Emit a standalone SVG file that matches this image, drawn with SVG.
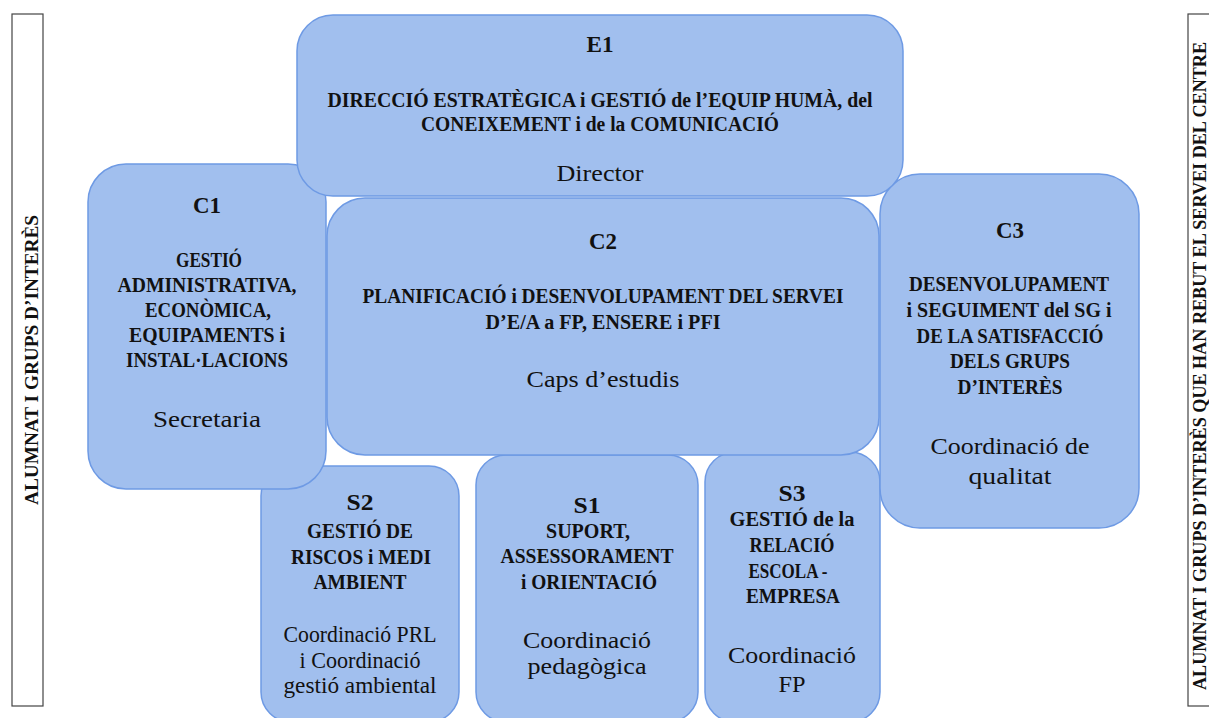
<svg xmlns="http://www.w3.org/2000/svg" width="1209" height="718" viewBox="0 0 1209 718">
<style>
.box{fill:#a1bfee;stroke:#6e9ae4;stroke-width:1.5}
.bar{fill:#fff;stroke:#444;stroke-width:1.2}
text{font-family:"Liberation Serif","DejaVu Serif",serif;fill:#111;text-anchor:middle}
.h{font-weight:bold;font-size:24px}
.b{font-weight:bold;font-size:20px}
.r{font-size:23px}
.v{font-weight:bold;font-size:19px}
</style>
<rect width="1209" height="718" fill="#fff"/>
<g id="left-bar">
<rect class="bar" x="12" y="14" width="31" height="692"/>
<text class="v" transform="translate(38,360) rotate(-90)" textLength="290" lengthAdjust="spacingAndGlyphs">ALUMNAT I GRUPS D’INTERÈS</text>
</g>
<g id="right-bar">
<rect class="bar" x="1188" y="14" width="40" height="692"/>
<text class="v" style="font-size:18px" transform="translate(1206,366) rotate(-90)" textLength="648" lengthAdjust="spacingAndGlyphs">ALUMNAT I GRUPS D’INTERÈS QUE HAN REBUT EL SERVEI DEL CENTRE</text>
</g>
<g id="connectors"></g>
<g id="S2">
<rect class="box" x="261" y="466" width="198" height="256" rx="30"/>
<text class="h" x="360" y="510" textLength="27" lengthAdjust="spacingAndGlyphs">S2</text>
<text class="b" x="360" y="538" textLength="106" lengthAdjust="spacingAndGlyphs">GESTIÓ DE</text>
<text class="b" x="361" y="564" textLength="140" lengthAdjust="spacingAndGlyphs">RISCOS i MEDI</text>
<text class="b" x="360" y="589" textLength="93" lengthAdjust="spacingAndGlyphs">AMBIENT</text>
<text class="r" x="360" y="642" textLength="153" lengthAdjust="spacingAndGlyphs">Coordinació PRL</text>
<text class="r" x="360" y="668" textLength="121" lengthAdjust="spacingAndGlyphs">i Coordinació</text>
<text class="r" x="360" y="693" textLength="153" lengthAdjust="spacingAndGlyphs">gestió ambiental</text>
</g>
<g id="S1">
<rect class="box" x="476" y="455" width="222" height="267" rx="30"/>
<text class="h" x="587" y="513" textLength="27" lengthAdjust="spacingAndGlyphs">S1</text>
<text class="b" x="588" y="538" textLength="84" lengthAdjust="spacingAndGlyphs">SUPORT,</text>
<text class="b" x="587" y="563" textLength="173" lengthAdjust="spacingAndGlyphs">ASSESSORAMENT</text>
<text class="b" x="589" y="589" textLength="136" lengthAdjust="spacingAndGlyphs">i ORIENTACIÓ</text>
<text class="r" x="587" y="648" textLength="128" lengthAdjust="spacingAndGlyphs">Coordinació</text>
<text class="r" x="587" y="674" textLength="119" lengthAdjust="spacingAndGlyphs">pedagògica</text>
</g>
<g id="S3">
<rect class="box" x="705" y="452" width="175" height="270" rx="30"/>
<text class="h" x="792" y="501" textLength="27" lengthAdjust="spacingAndGlyphs">S3</text>
<text class="b" x="792" y="526" textLength="125" lengthAdjust="spacingAndGlyphs">GESTIÓ de la</text>
<text class="b" x="792" y="552" textLength="85" lengthAdjust="spacingAndGlyphs">RELACIÓ</text>
<text class="b" x="788" y="578" textLength="79" lengthAdjust="spacingAndGlyphs">ESCOLA -</text>
<text class="b" x="793" y="603" textLength="94" lengthAdjust="spacingAndGlyphs">EMPRESA</text>
<text class="r" x="792" y="663" textLength="128" lengthAdjust="spacingAndGlyphs">Coordinació</text>
<text class="r" x="792" y="692" textLength="27" lengthAdjust="spacingAndGlyphs">FP</text>
</g>
<g id="C1">
<rect class="box" x="88" y="164" width="238" height="325" rx="38"/>
<text class="h" x="207" y="213" textLength="28" lengthAdjust="spacingAndGlyphs">C1</text>
<text class="b" x="209" y="267" textLength="66" lengthAdjust="spacingAndGlyphs">GESTIÓ</text>
<text class="b" x="207" y="292" textLength="179" lengthAdjust="spacingAndGlyphs">ADMINISTRATIVA,</text>
<text class="b" x="208" y="317" textLength="126" lengthAdjust="spacingAndGlyphs">ECONÒMICA,</text>
<text class="b" x="207" y="342" textLength="156" lengthAdjust="spacingAndGlyphs">EQUIPAMENTS i</text>
<text class="b" x="207" y="367" textLength="162" lengthAdjust="spacingAndGlyphs">INSTAL·LACIONS</text>
<text class="r" x="207" y="427" textLength="108" lengthAdjust="spacingAndGlyphs">Secretaria</text>
</g>
<g id="C2">
<rect class="box" x="327" y="198" width="552" height="257" rx="38"/>
<text class="h" x="603" y="249" textLength="28" lengthAdjust="spacingAndGlyphs">C2</text>
<text class="b" x="603" y="303" textLength="481" lengthAdjust="spacingAndGlyphs">PLANIFICACIÓ i DESENVOLUPAMENT DEL SERVEI</text>
<text class="b" x="603" y="329" textLength="235" lengthAdjust="spacingAndGlyphs">D’E/A a FP, ENSERE i PFI</text>
<text class="r" x="603" y="387" textLength="153" lengthAdjust="spacingAndGlyphs">Caps d’estudis</text>
</g>
<g id="C3">
<rect class="box" x="880" y="174" width="259" height="354" rx="40"/>
<text class="h" x="1010" y="238" textLength="28" lengthAdjust="spacingAndGlyphs">C3</text>
<text class="b" x="1009" y="291" textLength="200" lengthAdjust="spacingAndGlyphs">DESENVOLUPAMENT</text>
<text class="b" x="1009" y="317" textLength="205" lengthAdjust="spacingAndGlyphs">i SEGUIMENT del SG i</text>
<text class="b" x="1010" y="343" textLength="187" lengthAdjust="spacingAndGlyphs">DE LA SATISFACCIÓ</text>
<text class="b" x="1010" y="368" textLength="120" lengthAdjust="spacingAndGlyphs">DELS GRUPS</text>
<text class="b" x="1010" y="394" textLength="105" lengthAdjust="spacingAndGlyphs">D’INTERÈS</text>
<text class="r" x="1010" y="454" textLength="159" lengthAdjust="spacingAndGlyphs">Coordinació de</text>
<text class="r" x="1010" y="484" textLength="83" lengthAdjust="spacingAndGlyphs">qualitat</text>
</g>
<g id="E1">
<rect class="box" x="297" y="15" width="606" height="181" rx="36"/>
<text class="h" x="600" y="52" textLength="27" lengthAdjust="spacingAndGlyphs">E1</text>
<text class="b" x="600" y="107" textLength="545" lengthAdjust="spacingAndGlyphs">DIRECCIÓ ESTRATÈGICA i GESTIÓ de l’EQUIP HUMÀ, del</text>
<text class="b" x="600" y="131" textLength="358" lengthAdjust="spacingAndGlyphs">CONEIXEMENT i de la COMUNICACIÓ</text>
<text class="r" x="600" y="181" textLength="87" lengthAdjust="spacingAndGlyphs">Director</text>
</g>
</svg>
